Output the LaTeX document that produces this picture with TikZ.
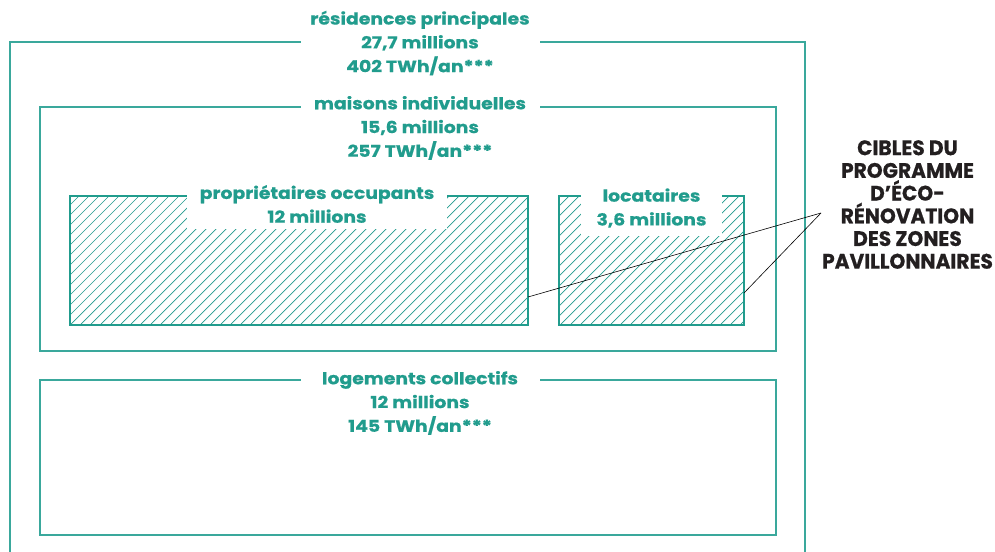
\documentclass[tikz,border=0pt]{standalone}
\usepackage{fontspec}
\setmainfont{Poppins}[FakeStretch=1.14, BoldFeatures={FakeBold=0.6}]
\newfontfamily\targetfont{Poppins}[FakeStretch=0.96, BoldFeatures={FakeBold=0.6}]
\definecolor{tealc}{RGB}{33,156,141}
\definecolor{tealb}{RGB}{58,168,156}
\definecolor{darkc}{RGB}{35,31,32}
\begin{document}
\begin{tikzpicture}[x=1pt,y=-1pt,
  boxline/.style={draw=tealb, line width=1.4pt},
  hatchbox/.style={draw=tealc, line width=2.6pt},
  hatchline/.style={draw=tealc, line width=0.7pt},
  title/.style={fill=white, text=tealc, align=center, inner sep=0pt,
    font=\bfseries\fontsize{16.5}{23.8}\selectfont},
  target/.style={text=darkc, align=center, inner sep=0pt,
    font=\targetfont\bfseries\fontsize{21}{22.7}\selectfont},
  pointer/.style={draw=black, line width=0.6pt}]
\useasboundingbox (0,0) rectangle (995,551);
% outer box
\draw[boxline] (10,42) rectangle (805,580);
\node[title, minimum width=239] (resid) at (420,43)
  {résidences principales\\27,7 millions\\402 TWh/an***};
% maisons individuelles
\draw[boxline] (40,107) rectangle (776,351);
\node[title, minimum width=239] (maisons) at (420,128)
  {maisons individuelles\\15,6 millions\\257 TWh/an***};
% logements collectifs
\draw[boxline] (40,380) rectangle (776,535);
\node[title, minimum width=239] (collectifs) at (420,403)
  {logements collectifs\\12 millions\\145 TWh/an***};
% proprietaires occupants
\begin{scope}
  \clip (70,196) rectangle (528,325);
  \foreach \x in {-60,-50,...,530} {
    \draw[hatchline] (\x,325) -- ++(129,-129);
  }
\end{scope}
\draw[hatchbox] (70,196) rectangle (528,325);
\node[title, minimum width=260, minimum height=50] (proprio) at (317,204)
  {propriétaires occupants\\12 millions};
% locataires
\begin{scope}
  \clip (559,196) rectangle (744,325);
  \foreach \x in {430,440,...,750} {
    \draw[hatchline] (\x,325) -- ++(129,-129);
  }
\end{scope}
\draw[hatchbox] (559,196) rectangle (744,325);
\node[title, minimum width=141, minimum height=56] (locat) at (651.5,208)
  {locataires\\3,6 millions};
% target label and pointers
\node[target] (cibles) at (907.5,204.5)
  {CIBLES DU\\PROGRAMME\\D’ÉCO-\\RÉNOVATION\\DES ZONES\\PAVILLONNAIRES};
\coordinate (apex) at (821,213);
\coordinate (p1) at (528,297);
\coordinate (p2) at (744,293);
\draw[pointer] (p1) -- (apex);
\draw[pointer] (p2) -- (apex);
\end{tikzpicture}
\end{document}
